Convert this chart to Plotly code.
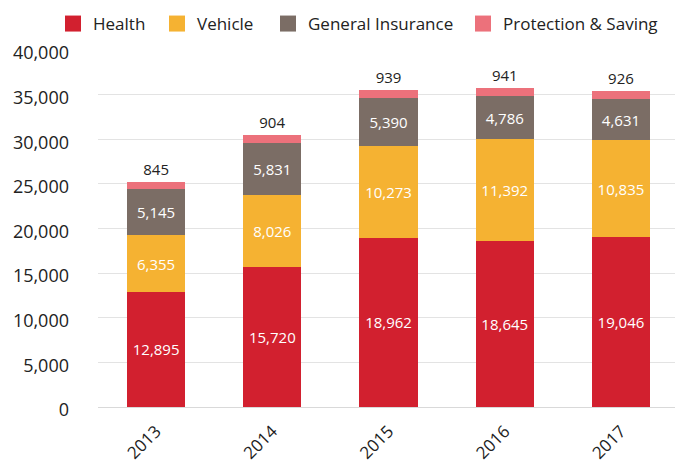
import plotly.graph_objects as go

years = ["2013", "2014", "2015", "2016", "2017"]
health = [12895, 15720, 18962, 18645, 19046]
vehicle = [6355, 8026, 10273, 11392, 10835]
general = [5145, 5831, 5390, 4786, 4631]
protection = [845, 904, 939, 941, 926]
y_ticks = [0, 5000, 10000, 15000, 20000, 25000, 30000, 35000, 40000]

FONT = "Open Sans"
series = [
    ("Health", health, "#D2202F", "inside", "white"),
    ("Vehicle", vehicle, "#F5B232", "inside", "white"),
    ("General Insurance", general, "#7B6D65", "inside", "white"),
    ("Protection & Saving", protection, "#EC717B", "outside", "#222222"),
]
legend_ids = ["legend", "legend2", "legend3", "legend4"]
legend_left_px = [53, 157, 268, 463]

L, R, T, B, W, H = 98, 0, 50, 57, 675, 464
plot_w = W - L - R
plot_h = H - T - B

fig = go.Figure()
for name, vals, color, pos, tcol in series:
    fig.add_trace(go.Bar(
        x=years, y=vals, name=name, width=0.5, showlegend=False,
        marker=dict(color=color, line=dict(width=0)),
        text=[f"{v:,}" for v in vals],
        textposition=pos,
        insidetextanchor="middle",
        textfont=dict(family=FONT, size=15, color=tcol),
        constraintext="none",
        cliponaxis=False,
        hoverinfo="skip",
    ))

# legend entries (16px squares)
for (name, vals, color, pos, tcol), lid in zip(series, legend_ids):
    fig.add_trace(go.Scatter(
        x=[None], y=[None], mode="markers", name=name, legend=lid,
        marker=dict(symbol="square", size=16, color=color),
        hoverinfo="skip",
    ))

legend_y = 1 + (T - 24) / plot_h
layout_legends = {}
for lid, px in zip(legend_ids, legend_left_px):
    layout_legends[lid] = dict(
        orientation="h", x=(px - L) / plot_w, xanchor="left",
        y=legend_y, yanchor="middle", bgcolor="rgba(0,0,0,0)",
        font=dict(family=FONT, size=17, color="#222222"), itemwidth=30,
    )

fig.update_layout(
    barmode="stack",
    width=W, height=H,
    margin=dict(l=L, r=R, t=T, b=B),
    paper_bgcolor="white", plot_bgcolor="white",
    font=dict(family=FONT, size=17, color="#222222"),
    showlegend=True,
    **layout_legends,
)
fig.update_xaxes(type="category", range=[-0.5, 4.465], tickangle=-45, showline=False,
                 ticks="", tickfont=dict(size=17), showgrid=False, ticklabelstandoff=10,
                 automargin=False)
fig.update_yaxes(range=[0, 40000], tickvals=y_ticks, tickformat=",", showgrid=True,
                 gridcolor="#E3E3E3", gridwidth=1, zeroline=True, zerolinecolor="#D9D9D9",
                 zerolinewidth=1, ticks="", tickfont=dict(size=18), ticklabelstandoff=28,
                 ticklabelshift=3, automargin=False)

fig.write_html("out.html", config={"displayModeBar": False},
               post_script="document.body.style.margin='0';")
